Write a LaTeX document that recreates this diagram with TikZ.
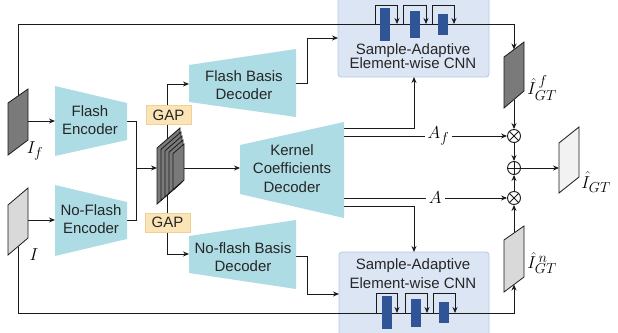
\documentclass[tikz,border=0pt]{standalone}
\usepackage{fontspec}
\setmainfont{Liberation Sans}
\usetikzlibrary{arrows.meta}
\definecolor{trap}{HTML}{AEDCE4}
\definecolor{saebg}{HTML}{DCE5F4}
\definecolor{saebd}{HTML}{B4C7E7}
\definecolor{gapbg}{HTML}{FBE4B6}
\definecolor{gapbd}{HTML}{F2CF96}
\definecolor{blk}{HTML}{2F5597}
\definecolor{darkimg}{HTML}{7A7A7A}
\definecolor{lightimg}{HTML}{D9D9D9}
\definecolor{outimg}{HTML}{F2F2F2}
\definecolor{ln}{HTML}{1A1A1A}
\begin{document}
\begin{tikzpicture}[x=1pt,y=-1pt,line width=0.9pt,
  >={Stealth[length=6pt,width=5pt]},
  lbl/.style={font=\fontsize{15}{18.5}\selectfont,align=center,inner sep=0pt,text=black!85},
  mlbl/.style={font=\fontsize{19}{22}\selectfont,inner sep=0pt},
  conn/.style={draw=ln,line width=0.9pt},
  trapfill/.style={fill=trap,draw=none},
  saebox/.style={fill=saebg,draw=saebd,line width=0.8pt,rounded corners=3pt},
  gapbox/.style={fill=gapbg,draw=gapbd,line width=0.8pt,lbl,minimum width=45pt,minimum height=19pt},
  blockrect/.style={fill=blk,draw=none},
  imgd/.style={fill=darkimg,draw=ln,line width=0.8pt},
  imgl/.style={fill=lightimg,draw=ln,line width=0.8pt},
  imgo/.style={fill=outimg,draw=ln,line width=0.8pt},
  opnode/.style={circle,draw=ln,line width=0.9pt,fill=white,minimum size=13pt,inner sep=0pt}
]
\useasboundingbox (0,0) rectangle (618,332);

% ---------- SAE background boxes
\draw[saebox] (338,-3) rectangle (489,77);
\draw[saebox] (339,252) rectangle (489,340);

% ---------- named coordinates
\coordinate (iftop) at (18,96);
\coordinate (ifright) at (28,121);
\coordinate (itop) at (18,196.5);
\coordinate (ibot) at (18,246.5);
\coordinate (iright) at (28,220);
\coordinate (fencin) at (55,121);
\coordinate (fencout) at (127,121);
\coordinate (nencin) at (55,220);
\coordinate (nencout) at (127,220);
\coordinate (join) at (136,168);
\coordinate (stackin) at (157,168);
\coordinate (stackout) at (184,168);
\coordinate (stackc) at (167,168);
\coordinate (fbdin) at (189,84);
\coordinate (fbdout) at (296,83);
\coordinate (nbdin) at (189,254);
\coordinate (nbdout) at (296,256);
\coordinate (kcdin) at (240,168);
\coordinate (kcdo1) at (344,128);
\coordinate (kcdo2) at (344,136);
\coordinate (kcdo3) at (344,198);
\coordinate (kcdo4) at (344,206);
\coordinate (saetin) at (338,38);
\coordinate (saetbot) at (414,77);
\coordinate (saebin) at (339,294);
\coordinate (saebtop) at (414,252);
\coordinate (hftop) at (514,49.5);
\coordinate (hfbot) at (514,99.5);
\coordinate (hntop) at (514,233);
\coordinate (hnbot) at (514,284.5);
\coordinate (outin) at (559,168);
\coordinate (tl) at (18,24);
\coordinate (tr) at (514,24);
\coordinate (bl) at (18,313);
\coordinate (br) at (514,313);

% ---------- operators
\node[opnode] (m1) at (514,136) {};
\node[opnode] (pl) at (514,168) {};
\node[opnode] (m2) at (514,198) {};
\draw[ln,line width=0.8pt] (m1.north west) -- (m1.south east) (m1.north east) -- (m1.south west);
\draw[ln,line width=0.8pt] (m2.north west) -- (m2.south east) (m2.north east) -- (m2.south west);
\draw[ln,line width=0.8pt] (pl.north) -- (pl.south) (pl.west) -- (pl.east);

% ---------- connectors
\draw[conn,->] (iftop) -- (tl) -- (tr) -- (hftop);
\draw[conn,->] (ibot) -- (bl) -- (br) -- (hnbot);
\draw[conn,->] (ifright) -- (fencin);
\draw[conn,->] (iright) -- (nencin);
\draw[conn] (fencout) -| (join);
\draw[conn] (nencout) -| (join);
\draw[conn,->] (join) -- (stackin);
\draw[conn,->] (stackc) |- (fbdin);
\draw[conn,->] (stackc) |- (nbdin);
\draw[conn,->] (stackout) -- (kcdin);
\draw[conn] (fbdout) -- (307,83) -- (307,38);
\draw[conn,->] (307,38) -- (saetin);
\draw[conn] (nbdout) -- (307,256) -- (307,294);
\draw[conn,->] (307,294) -- (saebin);
\draw[conn,->] (kcdo1) -| (saetbot);
\draw[conn,->] (kcdo4) -| (saebtop);
\draw[conn,->] (kcdo2) -- node[mlbl,fill=white,inner xsep=3pt,pos=0.58] (af) {$A_f$} (m1.west);
\draw[conn,->] (kcdo3) -- node[mlbl,fill=white,inner xsep=3pt,pos=0.56] (aa) {$A$} (m2.west);
\draw[conn,->] (hfbot) -- (m1.north);
\draw[conn,->] (m1.south) -- (pl.north);
\draw[conn,->] (hntop) -- (m2.south);
\draw[conn,->] (m2.north) -- (pl.south);
\draw[conn,->] (pl.east) -- (outin);

% ---------- residual skips (top)
\draw[conn,->,line width=0.8pt] (375,24) -- (375,5) -- (397,5) -- (397,24);
\draw[conn,->,line width=0.8pt] (403,24) -- (403,5) -- (426,5) -- (426,24);
\draw[conn,->,line width=0.8pt] (432,24) -- (432,5) -- (454,5) -- (454,24);
\fill[blockrect] (380,8) rectangle (390,41);
\fill[blockrect] (410,11) rectangle (420,38);
\fill[blockrect] (438,14) rectangle (448,35);
% ---------- residual skips (bottom)
\draw[conn,->,line width=0.8pt] (376,313) -- (376,293) -- (397,293) -- (397,313);
\draw[conn,->,line width=0.8pt] (405,313) -- (405,293) -- (427,293) -- (427,313);
\draw[conn,->,line width=0.8pt] (433,313) -- (433,293) -- (455,293) -- (455,313);
\fill[blockrect] (382,296) rectangle (392,329);
\fill[blockrect] (411,299) rectangle (421,327);
\fill[blockrect] (439,302) rectangle (449,323);

% ---------- trapezoids
\fill[trapfill] (55,86) -- (127,103) -- (127,140) -- (55,156) -- cycle;
\fill[trapfill] (55,185) -- (127,202) -- (127,239) -- (55,256) -- cycle;
\fill[trapfill] (189,65) -- (296,49) -- (296,117) -- (189,102) -- cycle;
\fill[trapfill] (189,236) -- (296,220) -- (296,289) -- (189,273) -- cycle;
\fill[trapfill] (240,145) -- (344,122) -- (344,218) -- (240,194) -- cycle;

% ---------- feature stack
\draw[imgd] (157,148) -- (180,128) -- (180,184) -- (157,204) -- cycle;
\draw[imgd] (161,149.4) -- (181,132) -- (181,183) -- (161,200.4) -- cycle;
\draw[imgd] (165,150.8) -- (182,136) -- (182,182) -- (165,196.8) -- cycle;
\draw[imgd] (169,152.2) -- (183,140) -- (183,181) -- (169,193.2) -- cycle;
\draw[imgd] (173,153.6) -- (184,144) -- (184,180) -- (173,189.6) -- cycle;

% ---------- GAP boxes
\node[gapbox] (gap1) at (168.5,115) {GAP};
\node[gapbox] (gap2) at (167.5,222.5) {GAP};

% ---------- images
\draw[imgd] (8,103) -- (28,89) -- (28,140) -- (8,155) -- cycle;
\draw[imgl] (8,205) -- (28,188) -- (28,238) -- (8,255) -- cycle;
\draw[imgd] (504,57) -- (524,42) -- (524,91) -- (504,108) -- cycle;
\draw[imgl] (504,240) -- (524,226) -- (524,277) -- (504,292) -- cycle;
\draw[imgo] (559,143) -- (579,127) -- (579,177) -- (559,193) -- cycle;

% ---------- texts
\node[lbl] (fenc) at (90,120) {Flash\\Encoder};
\node[lbl] (nenc) at (91,219) {No-Flash\\Encoder};
\node[lbl] (fbd) at (244,85) {Flash Basis\\Decoder};
\node[lbl] (nbd) at (243,257) {No-flash Basis\\Decoder};
\node[lbl] (kcd) at (292,168.5) {Kernel\\Coefficients\\Decoder};
\node[lbl,font=\fontsize{15}{14}\selectfont] (saet) at (413,56) {Sample-Adaptive\\Element-wise CNN};
\node[lbl,font=\fontsize{15}{19}\selectfont] (saeb) at (413,273.5) {Sample-Adaptive\\Element-wise CNN};

\node[mlbl] (lif) at (35,151) {$I_f$};
\node[mlbl] (li) at (34,255) {$I$};
\node[mlbl,anchor=west] (lhf) at (527,88) {$\hat{I}^{\,f}_{GT}$};
\node[mlbl,anchor=west] (lhn) at (527,263) {$\hat{I}^{\,n}_{GT}$};
\node[mlbl,anchor=west] (lout) at (581,182) {$\hat{I}_{GT}$};
\end{tikzpicture}
\end{document}
